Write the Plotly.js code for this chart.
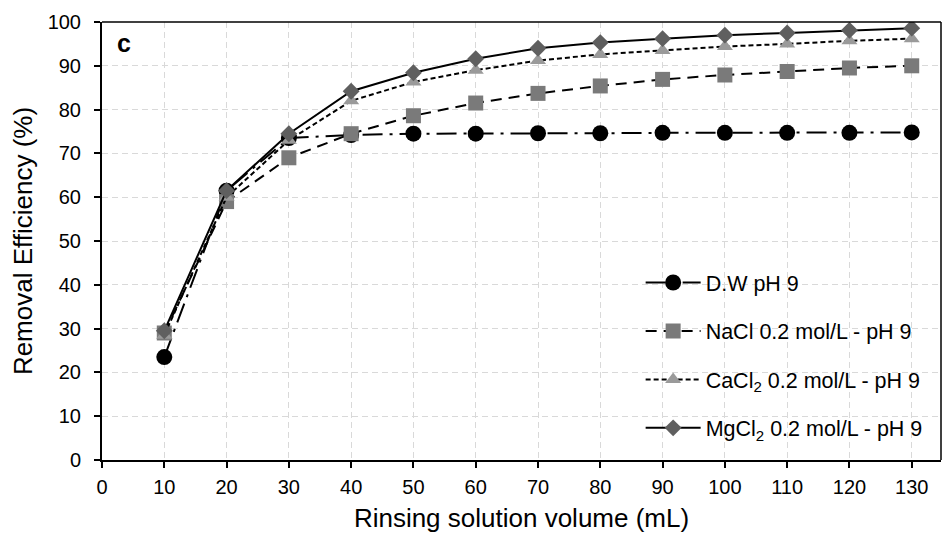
<!DOCTYPE html>
<html><head><meta charset="utf-8">
<script src="https://cdn.plot.ly/plotly-3.0.1.min.js"></script>
<style>body{margin:0;background:#fff}#c{width:947px;height:539px}</style>
</head><body><div id="c"></div>
<script>
const volume = [10,20,30,40,50,60,70,80,90,100,110,120,130];
const dw    = [23.5,61.5,73.5,74.2,74.5,74.5,74.6,74.6,74.7,74.7,74.7,74.7,74.8];
const nacl  = [29.0,59.0,69.0,74.5,78.6,81.5,83.7,85.4,86.9,87.9,88.7,89.5,90.0];
const cacl2 = [28.5,60.0,73.0,82.0,86.3,89.0,91.2,92.6,93.5,94.4,95.0,95.7,96.2];
const mgcl2 = [29.5,61.5,74.5,84.2,88.4,91.6,94.0,95.3,96.2,97.0,97.5,98.1,98.6];
const names = ["D.W pH 9","NaCl 0.2 mol/L - pH 9","CaCl<sub>2</sub> 0.2 mol/L - pH 9","MgCl<sub>2</sub> 0.2 mol/L - pH 9"];
const xTicks = [0,10,20,30,40,50,60,70,80,90,100,110,120,130];
const yTicks = [0,10,20,30,40,50,60,70,80,90,100];

const traces = [
  {x:volume,y:dw,name:names[0],legendgroup:"a",mode:"lines+markers",
   line:{color:"#000",width:2,dash:"20px,7px,3px,7px"},
   marker:{symbol:"circle",size:16,color:"#000"}},
  {x:volume,y:nacl,name:names[1],legendgroup:"b",mode:"lines+markers",
   line:{color:"#000",width:2,dash:"11px,7px"},
   marker:{symbol:"square",size:15,color:"#7a7a7a"}},
  {x:volume,y:cacl2,name:names[2],legendgroup:"c",mode:"lines+markers",
   line:{color:"#000",width:2,dash:"5px,3px"},
   marker:{symbol:"triangle-up",size:14,color:"#9a9a9a"}},
  {x:volume,y:mgcl2,name:names[3],legendgroup:"d",mode:"lines+markers",
   line:{color:"#000",width:2},
   marker:{symbol:"diamond",size:13,color:"#5f5f5f"}}
];

const layout = {
  width:947,height:539,
  margin:{l:102,r:6,t:22,b:79,pad:0},
  paper_bgcolor:"#fff",plot_bgcolor:"#fff",
  font:{family:"Liberation Sans, Arial, sans-serif",color:"#000",size:20},
  showlegend:true,
  legend:{x:0.642,y:0.452,xanchor:"left",yanchor:"top",bgcolor:"rgba(0,0,0,0)",
    font:{size:21.5,color:"#000"},tracegroupgap:17.5,itemwidth:55},
  xaxis:{range:[0,134.7],tickvals:xTicks,ticktext:xTicks.map(String),
    showline:true,linecolor:"#000",linewidth:2,mirror:false,
    ticks:"outside",ticklen:6,tickwidth:2,tickcolor:"#000",
    showgrid:true,gridcolor:"#d9d9d9",griddash:"6px,4px",gridwidth:1,
    zeroline:false,tickfont:{size:20},ticklabelstandoff:2,
    title:{text:"Rinsing solution volume (mL)",font:{size:26},standoff:12}},
  yaxis:{range:[0,100],tickvals:yTicks,ticktext:yTicks.map(String),
    showline:true,linecolor:"#000",linewidth:2,
    ticks:"outside",ticklen:6,tickwidth:2,tickcolor:"#000",
    showgrid:true,gridcolor:"#d9d9d9",griddash:"6px,4px",gridwidth:1,
    zeroline:false,tickfont:{size:20},ticklabelstandoff:9,
    title:{text:"Removal Efficiency (%)",font:{size:26},standoff:8}},
  shapes:[
    {type:"line",xref:"paper",yref:"paper",x0:0,x1:1,y0:1,y1:1,line:{color:"#000",width:1.5}},
    {type:"line",xref:"paper",yref:"paper",x0:1,x1:1,y0:0,y1:1,line:{color:"#000",width:1.5}}
  ],
  annotations:[
    {text:"<b>c</b>",xref:"paper",yref:"paper",x:0.016,y:0.951,xanchor:"left",yanchor:"middle",
     showarrow:false,font:{size:25,color:"#000"}}
  ]
};
Plotly.newPlot("c",traces,layout,{displayModeBar:false,staticPlot:true});
</script></body></html>
